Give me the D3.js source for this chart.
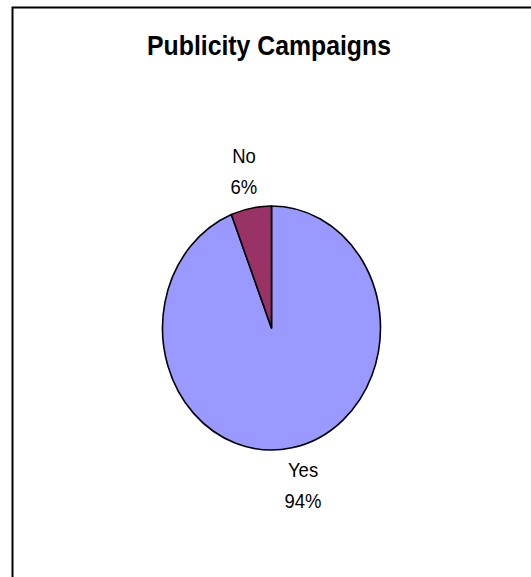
<!DOCTYPE html>
<html>
<head>
<meta charset="utf-8">
<script src="https://cdn.jsdelivr.net/npm/d3@7/dist/d3.min.js"></script>
<style>
  html, body { margin: 0; padding: 0; background: #fff; }
  svg { display: block; }
  text { font-family: "Liberation Sans", Arial, sans-serif; fill: #000; }
</style>
</head>
<body>
<svg id="chart" width="531" height="577"></svg>
<script>
const title = "Publicity Campaigns";
const categories = ["Yes", "No"];
const values = [94, 6];
const colors = ["#9999FF", "#993366"];

const svg = d3.select("#chart");

// outer chart border (right/bottom edges fall outside the picture)
svg.append("rect")
  .attr("x", 12.5).attr("y", 7.5)
  .attr("width", 600).attr("height", 600)
  .attr("fill", "#fff").attr("stroke", "#000").attr("stroke-width", 2);

const yScale = 1.12;

svg.append("text")
  .attr("transform", `translate(269,55) scale(1,${yScale})`)
  .attr("text-anchor", "middle")
  .attr("font-weight", "bold")
  .attr("font-size", 24.8)
  .text(title);

const cx = 271.5, cy = 328, rx = 109, ry = 122;
const data = categories.map((c, i) => ({ cat: c, val: values[i], color: colors[i] }));
const pie = d3.pie().sort(null).value(d => d.val);
const arcs = pie(data);
const arc = d3.arc().innerRadius(0).outerRadius(rx);

const g = svg.append("g")
  .attr("transform", `translate(${cx},${cy}) scale(1,${ry / rx})`);

g.selectAll("path")
  .data(arcs)
  .join("path")
  .attr("d", arc)
  .attr("fill", d => d.data.color)
  .attr("stroke", "#000")
  .attr("stroke-width", 1.6)
  .attr("stroke-linejoin", "round")
  .attr("vector-effect", "non-scaling-stroke");

// labels: block centred a fixed distance outside the ellipse along the mid-angle
const dist = 38;
const fmt = v => Math.round(v / d3.sum(values) * 100) + "%";
arcs.forEach(a => {
  const mid = (a.startAngle + a.endAngle) / 2;
  const s = Math.sin(mid), c = Math.cos(mid);
  const px = cx + s * rx, py = cy - c * ry;
  const bx = px + s * dist + (s > 0 ? 4 : 0);
  const by = py - c * dist;
  svg.append("text")
    .attr("transform", `translate(${bx},${by - 8}) scale(1,${yScale})`)
    .attr("text-anchor", "middle").attr("font-size", 18.5)
    .text(a.data.cat);
  svg.append("text")
    .attr("transform", `translate(${bx},${by + 23}) scale(1,${yScale})`)
    .attr("text-anchor", "middle").attr("font-size", 18.5)
    .text(fmt(a.data.val));
});
</script>
</body>
</html>
